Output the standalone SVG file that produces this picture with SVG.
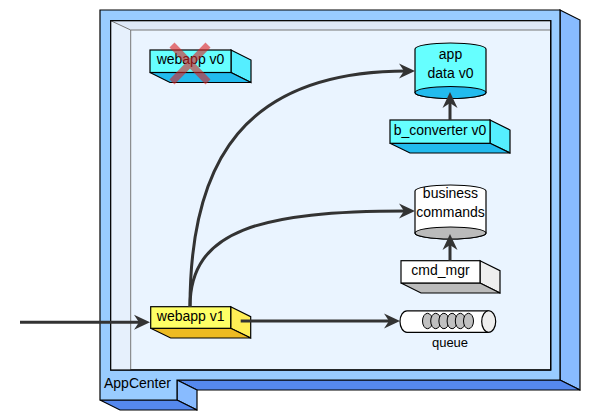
<svg xmlns="http://www.w3.org/2000/svg" width="600" height="420" viewBox="0 0 600 420">
<defs>
<style>
text{font-family:"Liberation Sans",Arial,sans-serif;font-size:14px;fill:#000}
.c{text-anchor:middle}
.o{stroke:#000;stroke-width:1.2;stroke-linejoin:miter}
.conn{fill:none;stroke:#333;stroke-width:3}
</style>
<marker id="ah" markerUnits="userSpaceOnUse" markerWidth="20" markerHeight="20" viewBox="-10 -10 20 20" refX="0" refY="0" orient="auto">
<path d="M8,0 L-8,-7.5 L-3,0 L-8,7.5 Z" fill="#333"/>
</marker>
</defs>

<g id="AppCenter">
<polygon class="o" points="560,10 580,20 580,390 560,380" fill="#88bbff"/>
<polygon class="o" points="177,380 560,380 580,390 197,390" fill="#5588ee"/>
<polygon class="o" points="177,380 197,390 197,410 177,400" fill="#88bbff"/>
<polygon class="o" points="100,400 177,400 197,410 120,410" fill="#5588ee"/>
<polygon class="o" points="100,10 560,10 560,380 177,380 177,400 100,400" fill="#99ccff"/>
<rect x="110.7" y="20.7" width="440" height="349.3" fill="#eaf4ff" stroke="#000" stroke-width="1.2"/>
<polygon points="110.7,20.7 550.7,20.7 550.7,30 130.7,30" fill="#dde8f8"/>
<polygon points="110.7,20.7 130.7,30 130.7,370 110.7,370" fill="#e6f0fc"/>
<path d="M110.7,20.7 L130.7,30 L550.7,30 M130.7,30 L130.7,370" fill="none" stroke="#777" stroke-width="1"/>
<rect x="110.7" y="20.7" width="440" height="349.3" fill="none" stroke="#000" stroke-width="1.2"/>
<text x="104" y="388">AppCenter</text>
</g>

<g id="webapp_v0">
<polygon class="o" points="231,50 251,60 251,82.5 231,72.5" fill="#55eeff"/>
<polygon class="o" points="150,72.5 231,72.5 251,82.5 170,82.5" fill="#22bbee"/>
<rect class="o" x="150" y="50" width="81" height="22.5" fill="#66ffff"/>
<text class="c" x="190.5" y="64.3">webapp v0</text>
<path d="M172,45 L208,82 M208,45 L172,82" stroke="#dd2222" stroke-width="7" opacity="0.6"/>
</g>

<g id="app_data_v0">
<path class="o" d="M415,49 L415,92.5 A35.5,6 0 0 0 486,92.5 L486,49 A35.5,6 0 0 0 415,49 Z" fill="#66ffff"/>
<ellipse class="o" cx="450.5" cy="92.5" rx="35.5" ry="6" fill="#22bbee"/>
<text class="c" x="450.5" y="58.5">app</text>
<text class="c" x="450.5" y="77.5">data v0</text>
</g>

<g id="b_converter_v0">
<polygon class="o" points="490,120 510,130 510,153 490,143.3" fill="#55eeff"/>
<polygon class="o" points="390,143.3 490,143.3 510,153 410,153" fill="#22bbee"/>
<rect class="o" x="390" y="120" width="100" height="23.3" fill="#66ffff"/>
<text class="c" x="440" y="134.5">b_converter v0</text>
</g>

<g id="business_commands">
<path class="o" d="M415,191 L415,233 A35.5,6 0 0 0 486,233 L486,191 A35.5,6 0 0 0 415,191 Z" fill="#ffffff"/>
<ellipse class="o" cx="450.5" cy="233" rx="35.5" ry="6" fill="#bbbbbb"/>
<text class="c" x="450.5" y="197.5">business</text>
<text class="c" x="450.5" y="217">commands</text>
</g>

<g id="cmd_mgr">
<polygon class="o" points="480,260.7 500,270.7 500,293 480,283" fill="#eeeeee"/>
<polygon class="o" points="401,283 480,283 500,293 421,293" fill="#bbbbbb"/>
<rect class="o" x="401" y="260.7" width="79" height="22.3" fill="#ffffff"/>
<text class="c" x="440.5" y="275">cmd_mgr</text>
</g>

<g id="webapp_v1">
<polygon class="o" points="230.7,306.7 250.7,316.7 250.7,338 230.7,328.3" fill="#ffee55"/>
<polygon class="o" points="150.7,328.3 230.7,328.3 250.7,338 170.7,338" fill="#eebb22"/>
<rect class="o" x="150.7" y="306.7" width="80" height="21.6" fill="#ffff66"/>
<text class="c" x="190.7" y="320.5">webapp v1</text>
</g>

<g id="queue">
<path class="o" d="M407,310.8 L488.7,310.8 L488.7,332.3 L407,332.3 A7,10.75 0 0 1 407,310.8 Z" fill="#ffffff"/>
<ellipse class="o" cx="488.7" cy="321.5" rx="7" ry="10.75" fill="#eeeeee"/>
<g fill="#c0c0c0" stroke="#000" stroke-width="1">
<ellipse cx="427.5" cy="321" rx="5" ry="7.7"/>
<ellipse cx="435.7" cy="321" rx="5" ry="7.7"/>
<ellipse cx="443.9" cy="321" rx="5" ry="7.7"/>
<ellipse cx="452.1" cy="321" rx="5" ry="7.7"/>
<ellipse cx="460.3" cy="321" rx="5" ry="7.7"/>
<ellipse cx="468.5" cy="321" rx="5" ry="7.7"/>
</g>
<text class="c" x="450" y="347" style="font-size:13px">queue</text>
</g>

<g id="connectors">
<path class="conn" d="M20,322.3 L142,322.3" marker-end="url(#ah)"/>
<path class="conn" d="M240.7,321 L392,321" marker-end="url(#ah)"/>
<path class="conn" d="M450,120 L450,100" marker-end="url(#ah)"/>
<path class="conn" d="M450,260.7 L450,242" marker-end="url(#ah)"/>
<path class="conn" d="M190,306.7 C190,160 245,71 407,71" marker-end="url(#ah)"/>
<path class="conn" d="M190,306.7 C190,230 260,211 407,211" marker-end="url(#ah)"/>
</g>
</svg>
